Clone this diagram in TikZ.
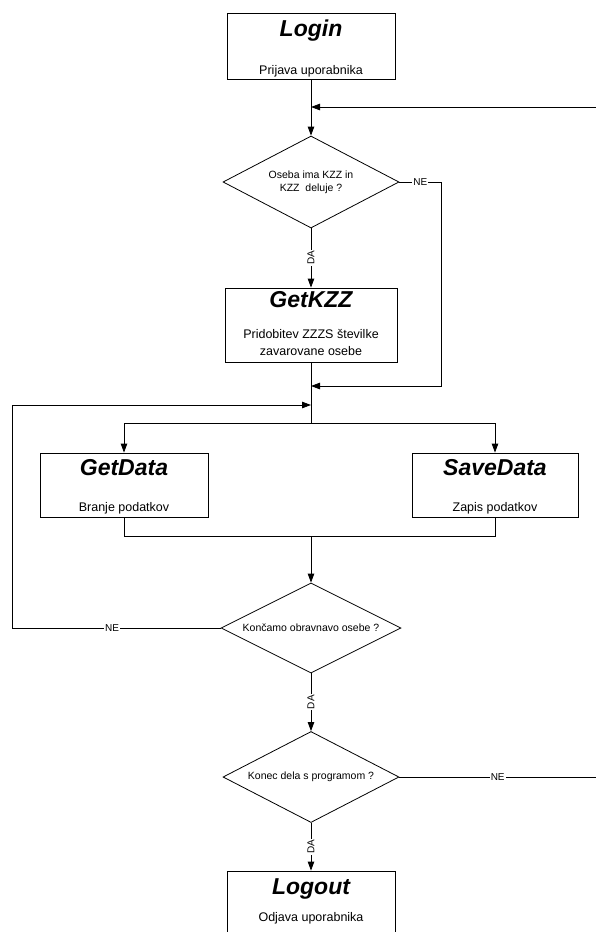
\documentclass[tikz,border=0pt]{standalone}
\usepackage{fontspec}
\setmainfont{Liberation Sans}
\usetikzlibrary{shapes.geometric,arrows.meta}

\begin{document}
\begin{tikzpicture}[x=1pt,y=-1pt,line width=0.8pt,
  stepbox/.style={draw,rectangle,inner sep=0pt},
  decision/.style={draw,diamond,aspect=2,inner sep=0pt,align=center,
    font=\fontsize{10.5}{13}\selectfont},
  ttl/.style={anchor=base,inner sep=0pt,font=\fontsize{23}{26}\selectfont\bfseries\itshape},
  sub/.style={anchor=base,inner sep=0pt,align=center,font=\fontsize{12.5}{16.8}\selectfont},
  lbl/.style={fill=white,inner sep=1pt,font=\fontsize{10}{11}\selectfont},
  arr/.style={-{Triangle[length=9pt,width=6.5pt]}}]

\path[use as bounding box,fill=white] (0,0) rectangle (596,932);
\clip (0,0) rectangle (596,932);

% process boxes
\node[stepbox,minimum width=168pt,minimum height=66pt] (login) at (311,46) {};
\node[stepbox,minimum width=172pt,minimum height=74pt] (getkzz) at (311,325) {};
\node[stepbox,minimum width=168pt,minimum height=64pt] (getdata) at (124,485) {};
\node[stepbox,minimum width=166pt,minimum height=64pt] (savedata) at (495,485) {};
\node[stepbox,minimum width=168pt,minimum height=66pt] (logout) at (311,904) {};

% box texts
\node[ttl] (logint) at ([yshift=-24pt]login.north) {Login};
\node[sub] (logins) at ([yshift=5pt]login.south) {Prijava uporabnika};
\node[ttl] (getkzzt) at ([yshift=-20pt]getkzz.north) {GetKZZ};
\node[sub] (getkzzs) at ([yshift=7pt]getkzz.south) {Pridobitev ZZZS številke\\zavarovane osebe};
\node[ttl] (getdatat) at ([yshift=-23pt]getdata.north) {GetData};
\node[sub] (getdatas) at ([yshift=6pt]getdata.south) {Branje podatkov};
\node[ttl] (savedatat) at ([yshift=-23pt]savedata.north) {SaveData};
\node[sub] (savedatas) at ([yshift=6pt]savedata.south) {Zapis podatkov};
\node[ttl] (logoutt) at ([yshift=-24pt]logout.north) {Logout};
\node[sub] (logouts) at ([yshift=-51pt]logout.north) {Odjava uporabnika};

% decisions
\node[decision,minimum width=176pt,minimum height=92pt] (d1) at (311,182)
  {Oseba ima KZZ in\\KZZ\ \ deluje ?};
\node[decision,minimum width=180pt,minimum height=90pt] (d2) at (311,628)
  {Končamo obravnavo osebe ?};
\node[decision,minimum width=176pt,minimum height=91pt] (d3) at (311,777)
  {Konec dela s programom ?};

% junction points and free ends
\coordinate (fbin) at (596,107);
\coordinate (fbjoin) at (311,107);
\coordinate (nejoin) at (311,386);
\coordinate (loopjoin) at (311,405);
\coordinate (loopcorner) at (12,628);
\coordinate (split) at (311,423);
\coordinate (merge) at (311,536);
\coordinate (exitright) at (596,777);

% connectors
\draw[arr] (login) -- (d1);
\draw[arr] (fbin) -- (fbjoin);
\draw[arr] (d1) -- node[lbl,rotate=90] (da1) {DA} (getkzz);
\draw[arr] (d1.east) -- node[lbl] (ne1) {NE} ++(42,0) |- (nejoin);
\draw (getkzz) -- (split);
\draw[arr] (split) -| (getdata.north);
\draw[arr] (split) -| (savedata.north);
\draw (getdata.south) |- (merge);
\draw (savedata.south) |- (merge);
\draw[arr] (merge) -- (d2);
\draw[arr] (d2.west) -- node[lbl,pos=0.52] (ne2) {NE} (loopcorner) |- (loopjoin);
\draw[arr] (d2) -- node[lbl,rotate=90] (da2) {DA} (d3);
\draw (d3.east) -- node[lbl] (ne3) {NE} (exitright);
\draw[arr] (d3) -- node[lbl,rotate=90] (da3) {DA} (logout);

\end{tikzpicture}
\end{document}
